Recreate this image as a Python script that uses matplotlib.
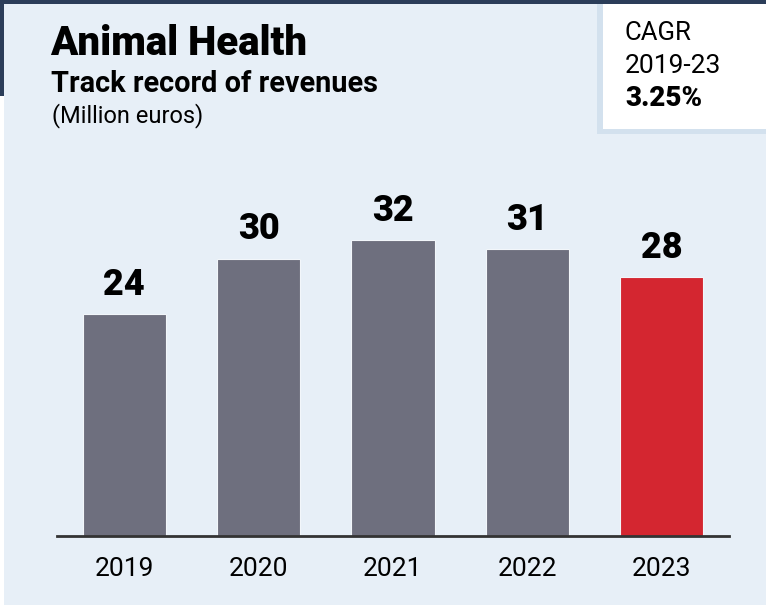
import matplotlib.pyplot as plt
from matplotlib.patches import Rectangle

# Data
years = ["2019", "2020", "2021", "2022", "2023"]
revenues = [24, 30, 32, 31, 28]
highlight_year = "2023"
cagr_label = "3.25%"

# Colours
BG = "#e7eff7"
NAVY = "#2b3d59"
GREY = "#6e6f7e"
RED = "#d42630"
SHADOW = "#d3e1ee"

W, H = 766, 606
fig = plt.figure(figsize=(W / 100, H / 100), dpi=100, facecolor="white")


def px_rect(x0, y0, x1, y1, color, z=0):
    # rectangle given in pixels measured from the top-left corner
    r = Rectangle((x0 / W, 1 - y1 / H), (x1 - x0) / W, (y1 - y0) / H,
                  transform=fig.transFigure, facecolor=color, edgecolor="none", zorder=z)
    fig.add_artist(r)


# Frame and panel
px_rect(0, 0, W, 4, NAVY)
px_rect(0, 0, 4, 96, NAVY)
px_rect(4, 4, W, 605, BG)

# CAGR box
px_rect(597, 4, W, 134, SHADOW, z=1)
px_rect(603, 4, W, 129, "white", z=2)

FONT = "Roboto"


def px_text(x, y, s, size, weight="normal"):
    fig.text(x / W, 1 - y / H, s, fontsize=size, fontweight=weight,
             family=FONT, va="baseline", ha="left", color="black", zorder=5)


px_text(50, 55, "Animal Health", 29, "black")
px_text(51, 92, "Track record of revenues", 20.8, "bold")
px_text(52, 122, "(Million euros)", 17)
px_text(625, 40, "CAGR", 18.5)
px_text(625, 73, "2019-23", 19)
px_text(625, 106, cagr_label, 20, "black")

# Axes: baseline at y=536 px, x from 57 to 729 px
ax_left, ax_right = 57, 729
ax_bottom, ax_top = 536, 150
ax = fig.add_axes([ax_left / W, 1 - ax_bottom / H, (ax_right - ax_left) / W, (ax_bottom - ax_top) / H])
ax.set_facecolor("none")

colors = [RED if y == highlight_year else GREY for y in years]
x = range(len(years))
bars = ax.bar(x, revenues, width=0.62, color=colors, edgecolor="#f2f6fa", linewidth=0.8, zorder=2)

for b, v in zip(bars, revenues):
    ax.annotate(str(v), (b.get_x() + b.get_width() / 2, b.get_height()),
                xytext=(0, 14), textcoords="offset points", ha="center", va="baseline",
                fontsize=26, fontweight="black", family=FONT)

ax.set_xlim(-0.5, 4.5)
ax.set_ylim(0, (ax_bottom - ax_top) / 9.25)
ax.set_xticks(list(x))
ax.set_xticklabels(years, fontsize=19, family=FONT)
ax.tick_params(axis="x", length=0, pad=15)
ax.set_yticks([])
for s in ["top", "left", "right"]:
    ax.spines[s].set_visible(False)
ax.spines["bottom"].set_color("#333333")
ax.spines["bottom"].set_linewidth(2)

fig.savefig("out.png", dpi=100, facecolor="white")
